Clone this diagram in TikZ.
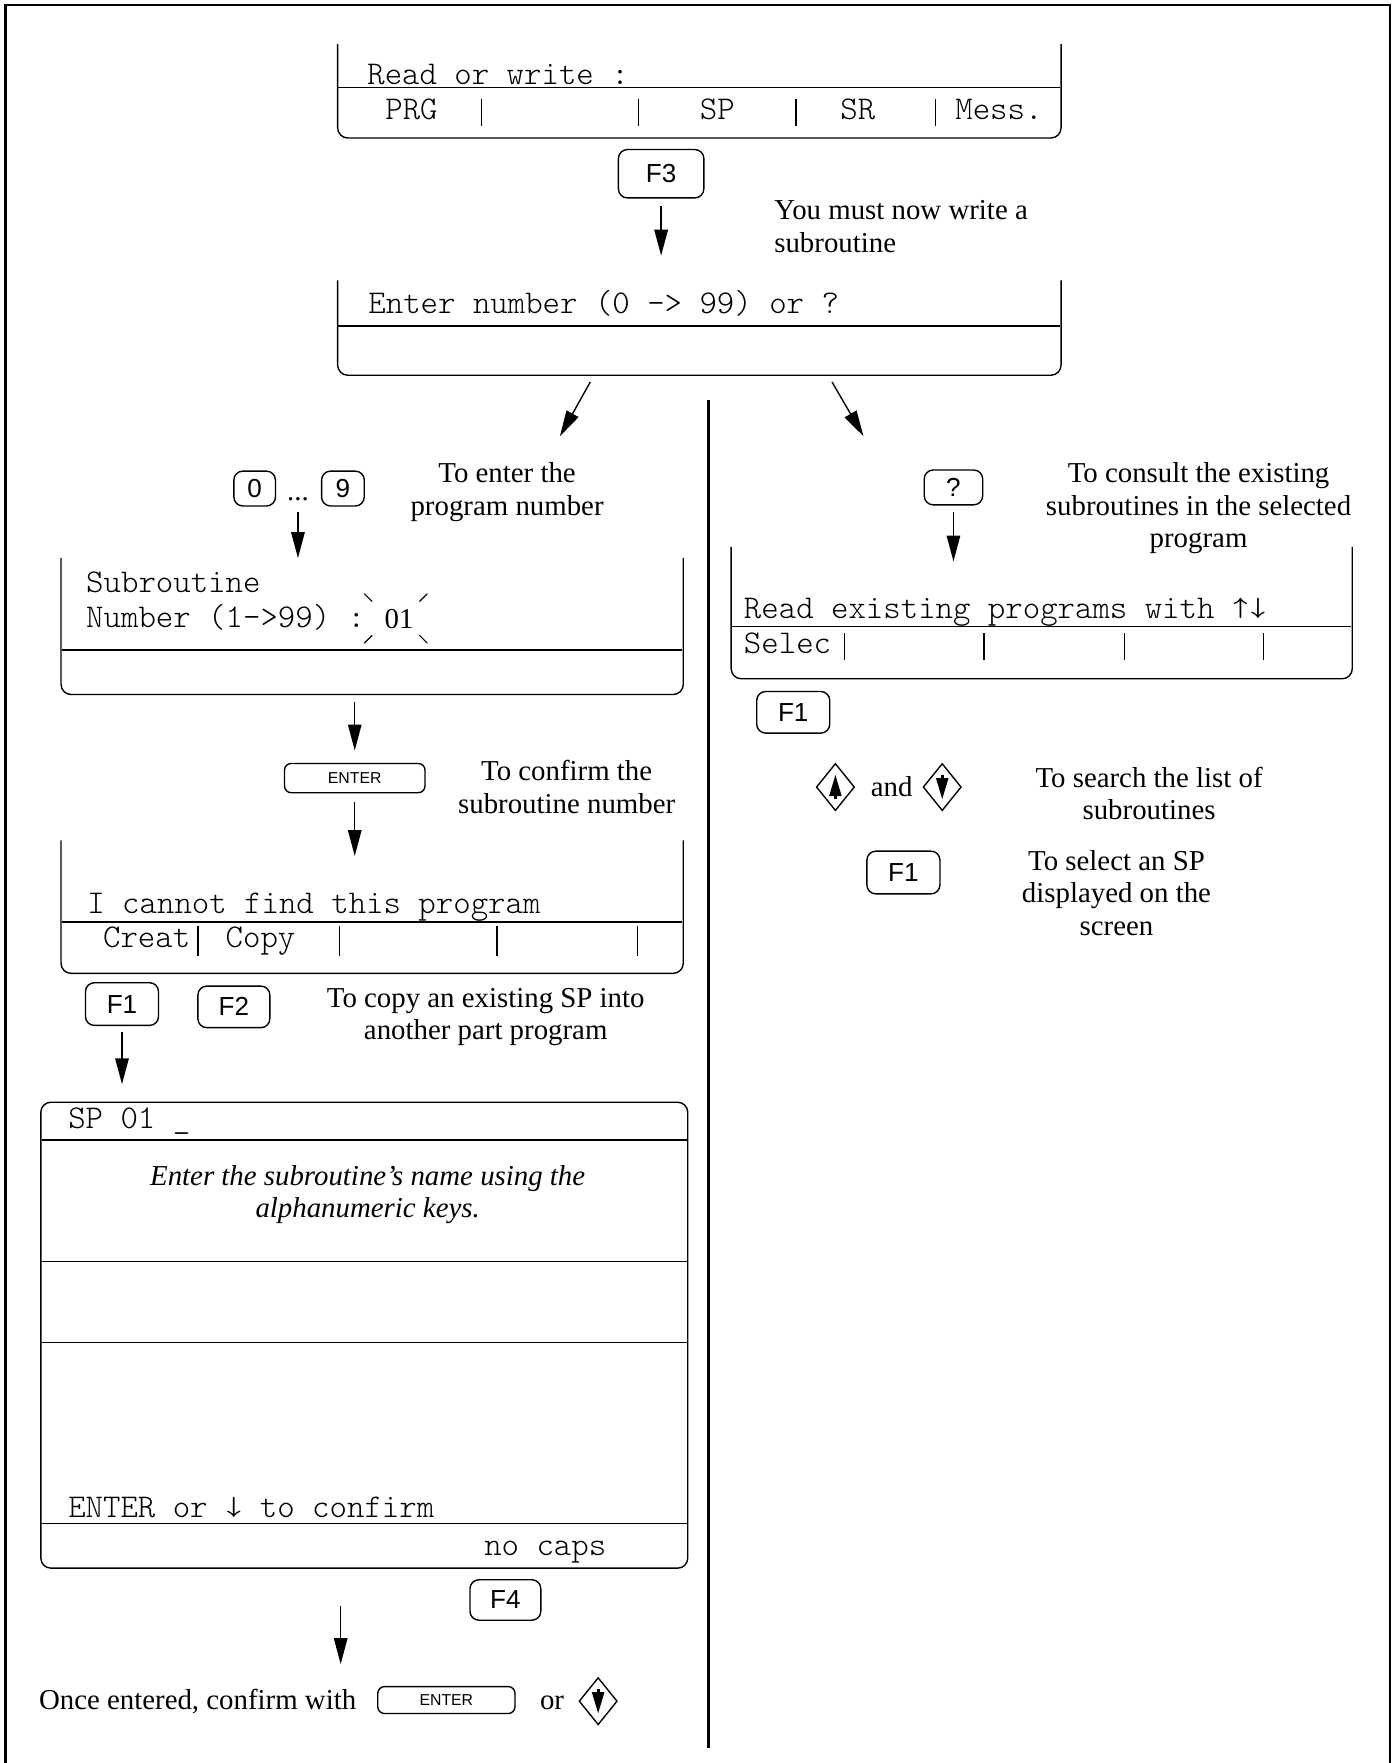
\documentclass[tikz,border=0pt]{standalone}
\usepackage{fontspec}
\setmainfont{Liberation Serif}
\setmonofont{lmmonolt10-regular.otf}
\newfontfamily\keyfont{Liberation Sans}
\usetikzlibrary{arrows.meta, shapes.geometric, calc, positioning}
\tikzset{
    screen/.style={rectangle, inner sep=0pt},
    outline/.style={line width=0.35pt, rounded corners=0.9mm},
    key/.style={rectangle, draw, line width=0.35pt, rounded corners=0.8mm, inner sep=0pt, font=\keyfont\fontsize{6.6}{7}\selectfont},
    smallkey/.style={key, rounded corners=0.6mm, font=\keyfont\fontsize{4}{5}\selectfont},
    dkey/.style={diamond, draw, line width=0.35pt, inner sep=0pt, minimum width=3.4mm, minimum height=4.2mm},
    dkeyarrow/.style={line width=0.7pt, -{Triangle[length=1.9mm, width=1.05mm]}},
    mono/.style={font=\ttfamily\fontsize{8.4}{9}\selectfont, inner sep=0pt},
    note/.style={align=center, font=\fontsize{7.3}{8.2}\selectfont, inner sep=0pt},
    arrow/.style={line width=0.35pt, -{Triangle[length=2.3mm, width=1.2mm]}},
    divider/.style={line width=0.35pt},
    frame/.style={line width=0.6pt}
}

\begin{document}
\begin{tikzpicture}[x=0.1mm, y=-0.1mm]
\useasboundingbox (0,0) rectangle (1241,1568);

% Page frame and column divider
\draw[frame] (5,1568) -- (5,4.5) -- (1236.5,4.5) -- (1236.5,1568);
\draw[frame] (630,356) -- (630,1555);

% Read or write screen
\node[screen, minimum width=64.2mm, minimum height=8.2mm] (readwrite) at (622,81) {};
\draw[outline] (readwrite.north west) -- (readwrite.south west) -- (readwrite.south east) -- (readwrite.north east);
\draw[divider] (301,78) -- (943,78);
\node[mono, anchor=base west] (rwtitle) at (326,75) {Read or write :};
\node[mono, anchor=base] (prg) at (366,106) {PRG};
\node[mono, anchor=base] (spkey) at (638,106) {SP};
\node[mono, anchor=base] (srkey) at (763,106) {SR};
\node[mono, anchor=base west] (mess) at (849,106) {Mess.};
\foreach \x in {428,568,708,832}
    \draw[divider] (\x,88) -- (\x,112);

\node[key, minimum width=7.6mm, minimum height=4.3mm] (f3) at (588,154.5) {F3};
\node[note, anchor=west, align=left] (writesp) at (688,201.5) {You must now write a\\subroutine};

% Enter number screen
\node[screen, minimum width=64.2mm, minimum height=8.3mm] (enum) at (622,291.5) {};
\draw[outline] (enum.north west) -- (enum.south west) -- (enum.south east) -- (enum.north east);
\draw[divider] (301,290) -- (943,290);
\node[mono, anchor=base west] (enumtitle) at (327,279) {Enter number (0 -> 99) or ?};
\draw[arrow, shorten <=0.7mm, shorten >=2.2mm] (f3.south) -- (f3.south |- enum.north);

\coordinate (numsel) at (498,388);
\coordinate (asksel) at (768,388);
\draw[arrow] ($(enum.south)+(-97,6)$) -- (numsel);
\draw[arrow] ($(enum.south)+(118,6)$) -- (asksel);

% Left branch: subroutine number
\node[key, minimum width=3.7mm, minimum height=3.1mm] (k0) at (226.5,434.5) {0};
\node[key, minimum width=3.8mm, minimum height=3.1mm] (k9) at (305,434.5) {9};
\node[note, anchor=base] (dots) at (265,445) {...};
\node[note] (entnum) at (451,437.5) {To enter the\\program number};

\node[screen, minimum width=55.2mm, minimum height=12mm] (subnum) at (331,557) {};
\draw[outline] (subnum.north west) -- (subnum.south west) -- (subnum.south east) -- (subnum.north east);
\draw[divider] (55,578) -- (607,578);
\node[mono, anchor=base west] (subtitle) at (76,527) {Subroutine};
\node[mono, anchor=base west] (subrange) at (76,558) {Number (1->99) :};
\node[note, anchor=base] (blink) at (355,559) {01};
\foreach \sx in {-1,1}
    \foreach \sy in {-1,1}
        \draw[line width=0.3pt] ($(352,550)+(\sx*28,\sy*22)$) -- ($(352,550)+(\sx*21,\sy*15)$);
\draw[arrow, shorten <=0.5mm] (dots |- k0.south) -- (dots |- subnum.north);

\node[smallkey, minimum width=12.5mm, minimum height=2.6mm] (enter1) at (315.5,692) {ENTER};
\node[note] (confnum) at (504,700) {To confirm the\\subroutine number};
\draw[arrow, shorten <=0.7mm, shorten >=1.1mm] (enter1 |- subnum.south) -- (enter1.north);

% Program not found screen
\node[screen, minimum width=55.2mm, minimum height=11.7mm] (notfound) at (331,806.5) {};
\draw[outline] (notfound.north west) -- (notfound.south west) -- (notfound.south east) -- (notfound.north east);
\draw[divider] (55,820) -- (607,820);
\node[mono, anchor=base west] (nftitle) at (77,812) {I cannot find this program};
\node[mono, anchor=base west] (creat) at (91,843) {Creat};
\node[mono, anchor=base west] (copy) at (200,843) {Copy};
\foreach \x in {176,302,442,567}
    \draw[divider] (\x,824) -- (\x,850);
\draw[arrow, shorten <=0.8mm, shorten >=-1.4mm] (enter1.south) -- (enter1 |- notfound.north);

\node[key, minimum width=6.5mm, minimum height=3.8mm] (f1a) at (108.5,893) {F1};
\node[key, minimum width=6.4mm, minimum height=3.7mm] (f2) at (208,895.5) {F2};
\node[note] (copysp) at (432,904.5) {To copy an existing SP into\\another part program};

% Subroutine name screen
\node[screen, minimum width=57.4mm, minimum height=41.3mm] (name) at (324,1187.5) {};
\draw[outline] (name.north west) rectangle (name.south east);
\foreach \y in {1014,1122,1194,1355}
    \draw[divider] (37,\y) -- (611,\y);
\node[mono, anchor=base west] (sptitle) at (60,1004) {SP 01 \_};
\node[note, font=\itshape\fontsize{7.3}{8.2}\selectfont] (namehint) at (327,1062.5) {Enter the subroutine’s name using the\\alphanumeric keys.};
\node[mono, anchor=base west] (confline) at (60,1350) {ENTER or ↓ to confirm};
\node[mono, anchor=base west] (nocaps) at (430,1383) {no caps};
\draw[arrow, shorten <=0.5mm, shorten >=1.6mm] (f1a.south) -- (f1a.south |- name.north);

\node[key, minimum width=6.3mm, minimum height=3.6mm] (f4) at (449.5,1423) {F4};

% Final confirmation
\coordinate (confirmin) at (303,1480);
\draw[arrow, shorten <=3.4mm] (confirmin |- name.south) -- (confirmin);
\node[note, anchor=base west] (confirm) at (34,1520) {Once entered, confirm with};
\node[smallkey, minimum width=12.2mm, minimum height=2.4mm] (enter2) at (397,1512) {ENTER};
\node[note, anchor=base] (orword) at (491,1520) {or};
\node[dkey] (downend) at (532,1513) {};
\draw[dkeyarrow] ([yshift=1.1mm]downend.center) -- ([yshift=-1.1mm]downend.center);

% Right branch: consult existing subroutines
\node[key, minimum width=5.2mm, minimum height=3.1mm] (kq) at (848,433.5) {?};
\node[note] (consult) at (1066,452) {To consult the existing\\subroutines in the selected\\program};

\node[screen, minimum width=55.1mm, minimum height=11.6mm] (readex) at (926.5,545) {};
\draw[outline] (readex.north west) -- (readex.south west) -- (readex.south east) -- (readex.north east);
\draw[divider] (651,557) -- (1202,557);
\node[mono, anchor=base west] (retitle) at (661,550) {Read existing programs with ↑↓};
\node[mono, anchor=base west] (selec) at (661,581) {Selec};
\foreach \x in {751,875,1000,1124}
    \draw[divider] (\x,563) -- (\x,587);
\draw[arrow, shorten <=0.6mm, shorten >=-1.3mm] (kq.south) -- (kq.south |- readex.north);

\node[key, minimum width=6.5mm, minimum height=3.7mm] (f1b) at (705.5,633.5) {F1};

\node[dkey] (upkey) at (743,700) {};
\draw[dkeyarrow] ([yshift=-1.1mm]upkey.center) -- ([yshift=1.1mm]upkey.center);
\node[note] (andword) at (793,700) {and};
\node[dkey] (downkey) at (838,700) {};
\draw[dkeyarrow] ([yshift=1.1mm]downkey.center) -- ([yshift=-1.1mm]downkey.center);
\node[note] (search) at (1022,705.5) {To search the list of\\subroutines};

\node[key, minimum width=6.5mm, minimum height=3.8mm] (f1c) at (803.5,776) {F1};
\node[note] (select) at (993,794) {To select an SP\\displayed on the\\screen};

\end{tikzpicture}
\end{document}
